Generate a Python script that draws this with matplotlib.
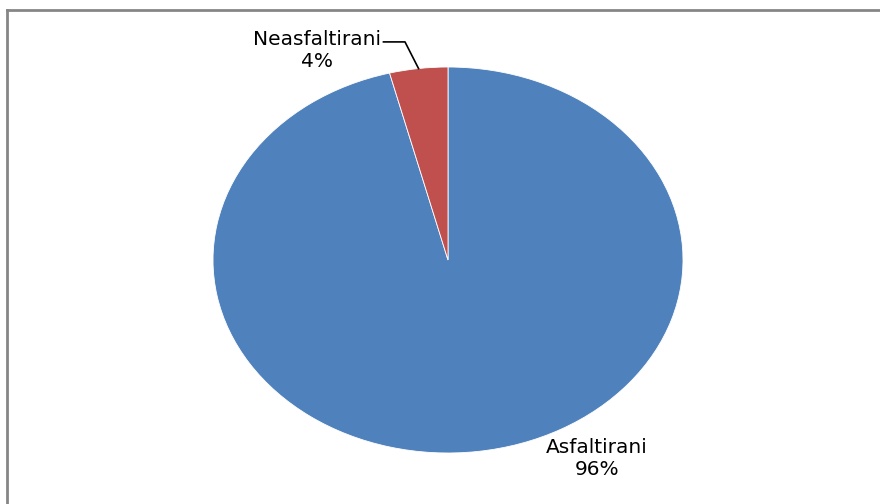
import numpy as np
import matplotlib
matplotlib.use("Agg")
import matplotlib.pyplot as plt
from matplotlib.lines import Line2D

# data
categories = ["Asfaltirani", "Neasfaltirani"]
shares = [96, 4]
colors = ["#4F81BD", "#C0504D"]

fig = plt.figure(figsize=(8.8, 5.04), dpi=100)
fig.patch.set_facecolor("white")

# axes placed so the (stretched) pie fills the ellipse area
ax = fig.add_axes([213 / 880, (504 - 453) / 504, 470 / 880, 386 / 504])
wedges, _ = ax.pie(shares, colors=colors, startangle=90, counterclock=False,
                   radius=1, wedgeprops=dict(edgecolor="white", linewidth=0.6))
ax.set_aspect("auto")
ax.set_xlim(-1, 1)
ax.set_ylim(-1, 1)
ax.axis("off")

font = dict(family="DejaVu Sans", fontsize=14.5, color="black",
            ha="center", va="center", linespacing=1.2)

# labels
lbl_pos = {"Asfaltirani": (0.634, -1.026), "Neasfaltirani": (-0.557, 1.088)}
texts = {}
for name, val in zip(categories, shares):
    x, y = lbl_pos[name]
    texts[name] = ax.text(x, y, f"{name}\n{val}%", clip_on=False, **font)

# leader line for the small slice, starting at the end of its label
fig.canvas.draw()
bb = texts["Neasfaltirani"].get_window_extent().transformed(ax.transData.inverted())
w = wedges[1]
mid = np.deg2rad((w.theta1 + w.theta2) / 2)
px, py = np.cos(mid), np.sin(mid)
ax.plot([bb.x1 + 0.01, -0.183, px], [1.13, 1.13, py], color="black",
        linewidth=1.2, clip_on=False)

# frame lines (top and left only visible)
fig.add_artist(Line2D([7 / 880, 1], [1 - 10 / 504, 1 - 10 / 504],
                      color="#868686", linewidth=2))
fig.add_artist(Line2D([7 / 880, 7 / 880], [0, 1 - 10 / 504],
                      color="#868686", linewidth=2))

fig.savefig("out.png", dpi=100)
